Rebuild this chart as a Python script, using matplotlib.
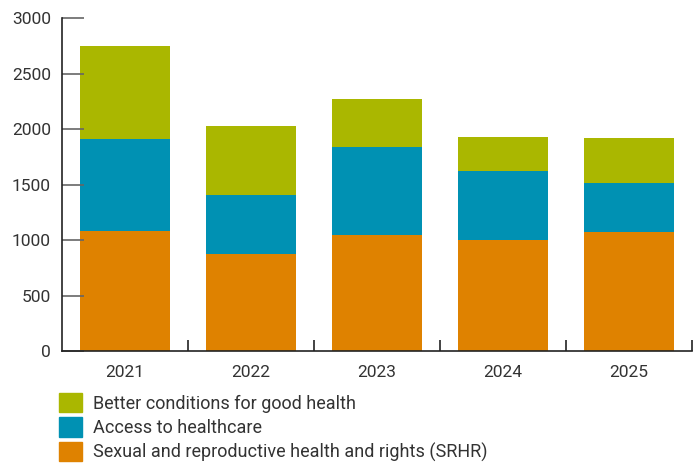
import matplotlib
matplotlib.use("Agg")
import numpy as np
import matplotlib.pyplot as plt
from matplotlib.patches import Patch

# -----------------------------
# DATA
# -----------------------------
years  = ["2021", "2022", "2023", "2024", "2025"]
srhr   = [1083, 873, 1044, 999, 1071]
access = [825, 531, 792, 621, 441]
better = [837, 621, 432, 306, 405]

labels = [
    "Better conditions for good health",
    "Access to healthcare",
    "Sexual and reproductive health and rights (SRHR)",
]

C_GREEN  = "#AAB700"
C_BLUE   = "#0091B3"
C_ORANGE = "#DF8200"

plt.rcParams["font.family"] = ["Roboto", "DejaVu Sans"]

fig = plt.figure(figsize=(6.97, 4.65), dpi=100)
ax = fig.add_axes([0.089, 0.245, 0.904, 0.716])

x = np.arange(len(years))
w = 0.72
srhr_a   = np.array(srhr)
access_a = np.array(access)
better_a = np.array(better)

ax.bar(x, srhr_a, w, color=C_ORANGE, linewidth=0)
ax.bar(x, access_a, w, bottom=srhr_a, color=C_BLUE, linewidth=0)
ax.bar(x, better_a, w, bottom=srhr_a + access_a, color=C_GREEN, linewidth=0)

ax.set_xlim(-0.5, 4.5)
ax.set_ylim(0, 3000)

for s in ["top", "right"]:
    ax.spines[s].set_visible(False)
for s in ["left", "bottom"]:
    ax.spines[s].set_color("#222222")
    ax.spines[s].set_linewidth(1.2)

ax.set_yticks(np.arange(0, 3001, 500))
ax.tick_params(axis="y", direction="in", length=16, width=1.2, color="#666666",
               labelsize=12.5, labelcolor="#333333", pad=8)

ax.set_xticks(x)
ax.set_xticklabels(years)
ax.set_xticks(np.arange(0.5, 4.6, 1.0), minor=True)
ax.tick_params(axis="x", which="major", length=0, labelsize=12.5,
               labelcolor="#333333", pad=10)
ax.tick_params(axis="x", which="minor", direction="in", length=8, width=1.2,
               color="#222222")

handles = [Patch(color=C_GREEN), Patch(color=C_BLUE), Patch(color=C_ORANGE)]
fig.legend(handles, labels, loc="upper left", bbox_to_anchor=(0.085, 0.155),
           frameon=False, fontsize=13, handlelength=1.28, handleheight=1.28,
           labelspacing=0.26, handletextpad=0.6, borderpad=0, borderaxespad=0,
           labelcolor="#333333")

fig.savefig("out.png", dpi=100)
